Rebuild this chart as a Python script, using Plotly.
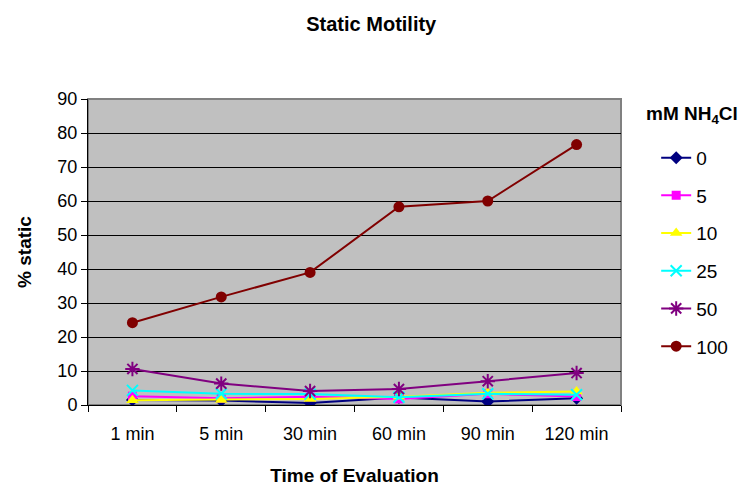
import plotly.graph_objects as go

# Evaluation times (x categories)
times = ["1 min", "5 min", "30 min", "60 min", "90 min", "120 min"]

# % static sperm for each NH4Cl concentration (mM)
conc_0 = [1.5, 1.3, 0.6, 2.2, 1.0, 2.0]
conc_5 = [2.6, 2.0, 2.4, 1.8, 3.3, 2.5]
conc_10 = [1.4, 1.5, 1.8, 2.4, 3.6, 4.0]
conc_25 = [4.3, 3.3, 3.2, 2.3, 3.3, 3.0]
conc_50 = [10.6, 6.3, 4.1, 4.7, 7.0, 9.4]
conc_100 = [24.2, 31.8, 39.0, 58.3, 60.0, 76.6]

series = [
    ("0", conc_0, "#000080", dict(symbol="diamond", size=10)),
    ("5", conc_5, "#FF00FF", dict(symbol="square", size=9)),
    ("10", conc_10, "#FFFF00", dict(symbol="triangle-up", size=11)),
    ("25", conc_25, "#00FFFF", dict(symbol="x-thin-open", size=11, line=dict(width=2, color="#00FFFF"))),
    ("50", conc_50, "#800080", dict(symbol="asterisk-open", size=12, line=dict(width=2, color="#800080"))),
    ("100", conc_100, "#800000", dict(symbol="circle", size=11)),
]

fig = go.Figure()
for i, (name, vals, color, marker) in enumerate(series):
    marker = dict(marker)
    marker["color"] = color
    fig.add_trace(go.Scatter(
        x=times, y=vals, name=name, mode="lines+markers",
        line=dict(color=color, width=2), marker=marker,
        legendgroup=f"g{i}",
    ))

fig.update_layout(
    width=750, height=489,
    margin=dict(l=88, r=129, t=99, b=84, autoexpand=False),
    paper_bgcolor="white",
    plot_bgcolor="#C0C0C0",
    font=dict(family="Liberation Sans, Arial, sans-serif", size=18, color="black"),
    title=dict(text="<b>Static Motility</b>", x=0.495, xanchor="center", y=0.95, yanchor="middle",
               font=dict(size=20)),
    showlegend=True,
    legend=dict(
        x=1.066, xanchor="left", y=0.87, yanchor="top",
        bgcolor="rgba(0,0,0,0)", tracegroupgap=10,
        font=dict(size=19),
    ),
    xaxis=dict(
        type="category", range=[-0.5, 5.5], automargin=False,
        tickson="boundaries", ticks="outside", ticklen=6, tickcolor="black",
        showline=True, linecolor="black", linewidth=1, mirror=False,
        showgrid=False, tickfont=dict(size=18), ticklabelstandoff=12,
        title=dict(text="<b>Time of Evaluation</b>", font=dict(size=19), standoff=26),
    ),
    yaxis=dict(
        range=[0, 90], dtick=10, ticks="outside", ticklen=6, tickcolor="black",
        showline=True, linecolor="black", linewidth=1, automargin=False,
        showgrid=True, gridcolor="black", gridwidth=1, zeroline=False,
        tickfont=dict(size=18),
        title=dict(text="<b>% static</b>", font=dict(size=19), standoff=20),
    ),
)

# Legend heading
fig.add_annotation(text="<b>mM NH<sub>4</sub>Cl</b>", xref="paper", yref="paper",
                   x=(692 - 88) / 533, y=(405 - 115) / 306, xanchor="center", yanchor="middle",
                   showarrow=False, font=dict(size=19))

# Gray frame around the plotting area
fig.add_shape(type="rect", xref="paper", yref="paper", x0=0, y0=0, x1=1, y1=1,
              line=dict(color="#808080", width=2), layer="below")

fig.write_html("out.html")
